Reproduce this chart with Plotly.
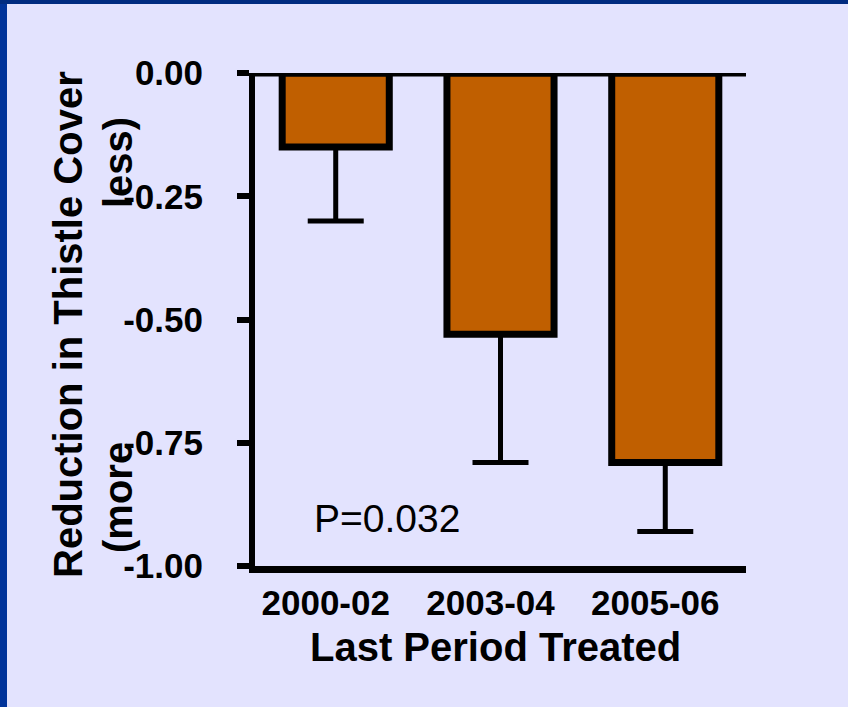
import plotly.graph_objects as go

# ---- data ----
categories = ["2000-02", "2003-04", "2005-06"]
reduction = [-0.15, -0.53, -0.79]
err_minus = [0.15, 0.26, 0.14]
y_tickvals = [0.0, -0.25, -0.50, -0.75, -1.00]
y_ticktext = ["0.00", "-0.25", "-0.50", "-0.75", "-1.00"]
x_title = "Last Period Treated"
y_title_1 = "Reduction in Thistle Cover"
y_title_2a = "(more"
y_title_2b = "less)"
p_text = "P=0.032"

# ---- layout geometry (pixels) ----
W, H = 848, 707
L, R, T, B = 255, 746, 73, 566

def px_x(p):
    return (p - L) / (R - L)

def px_y(p):
    return (B - p) / (B - T)

FONT = "Liberation Sans, Arial, sans-serif"
BG = "#E3E3FE"
BAR = "#C05F00"

fig = go.Figure()
fig.add_trace(go.Bar(
    x=list(range(len(categories))),
    y=reduction,
    width=0.65,
    marker=dict(color=BAR, line=dict(color="black", width=7)),
    error_y=dict(type="data", symmetric=False, array=[0] * len(err_minus),
                 arrayminus=err_minus, color="black", thickness=5, width=28),
    showlegend=False,
))

fig.update_layout(
    width=W, height=H,
    margin=dict(l=L, r=W - R, t=T, b=H - B, pad=0),
    paper_bgcolor=BG, plot_bgcolor=BG,
    font=dict(family=FONT, color="black"),
    xaxis=dict(
        range=[-0.49, 2.49],
        tickvals=list(range(len(categories))), ticktext=categories,
        showline=True, linewidth=7, linecolor="black",
        ticks="", showgrid=False, zeroline=False,
        tickfont=dict(size=35, family=FONT, weight="bold", color="black"),
        ticklabelshift=-10,
        fixedrange=True,
    ),
    yaxis=dict(
        range=[-1.0, 0.0],
        tickvals=y_tickvals, ticktext=y_ticktext,
        showline=True, linewidth=6, linecolor="black",
        ticks="outside", ticklen=12, tickwidth=6, tickcolor="black",
        showgrid=False, zeroline=False,
        tickfont=dict(size=35, family=FONT, weight="bold", color="black"),
        ticklabelstandoff=27,
        fixedrange=True,
    ),
)

# zero reference line at top
fig.add_shape(type="line", xref="paper", yref="y", x0=0, x1=1, y0=0, y1=0,
              line=dict(color="black", width=7), layer="above")

# slide border (left and top)
fig.add_shape(type="rect", xref="paper", yref="paper",
              x0=px_x(0), x1=px_x(7), y0=px_y(H), y1=px_y(0),
              fillcolor="#00339A", line=dict(width=0), layer="below")
fig.add_shape(type="rect", xref="paper", yref="paper",
              x0=px_x(0), x1=px_x(W + 10), y0=px_y(4), y1=px_y(0),
              fillcolor="#002B80", line=dict(width=0), layer="above")

bold40 = dict(size=40, family=FONT, weight="bold", color="black")
fig.add_annotation(text=y_title_1, textangle=-90, xref="paper", yref="paper",
                   x=px_x(68), y=px_y(325), xanchor="center", yanchor="middle",
                   showarrow=False, font=bold40)
fig.add_annotation(text=y_title_2b, textangle=-90, xref="paper", yref="paper",
                   x=px_x(118), y=px_y(163), xanchor="center", yanchor="middle",
                   showarrow=False, font=bold40)
fig.add_annotation(text=y_title_2a, textangle=-90, xref="paper", yref="paper",
                   x=px_x(118), y=px_y(498), xanchor="center", yanchor="middle",
                   showarrow=False, font=bold40)
fig.add_annotation(text=x_title, xref="paper", yref="paper",
                   x=px_x(495), y=px_y(647), xanchor="center", yanchor="middle",
                   showarrow=False, font=bold40)
fig.add_annotation(text=p_text, xref="paper", yref="paper",
                   x=px_x(387), y=px_y(518.5), xanchor="center", yanchor="middle",
                   showarrow=False, font=dict(size=39, family=FONT, color="black"))

fig.write_html(
    "out.html",
    config={"displayModeBar": False},
    post_script="document.body.style.margin='0';document.body.style.overflow='hidden';"
                "document.documentElement.style.overflow='hidden';",
)
